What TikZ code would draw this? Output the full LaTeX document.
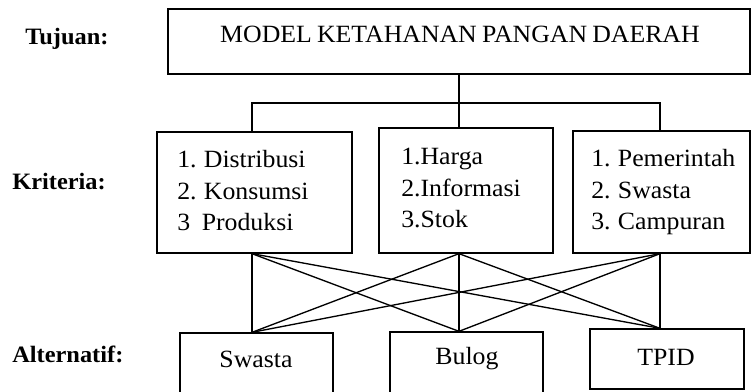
\documentclass[tikz,border=0pt]{standalone}
\usepackage{fontspec}
\setmainfont{Liberation Serif}[FakeStretch=1.04, WordSpace=0.8]
\usetikzlibrary{fit}
\begin{document}
\begin{tikzpicture}[x=0.75pt,y=-0.75pt,
  box/.style={draw, line width=1pt, inner sep=0pt},
  txt/.style={inner sep=0pt, font=\fontsize{18.6}{23.6}\selectfont},
  lbl/.style={inner sep=0pt, font=\fontsize{17.6}{23.6}\selectfont\bfseries},
  wire/.style={line width=1pt}]
\useasboundingbox (0,0) rectangle (751,392);
\clip (0,0) rectangle (751,392);
% boxes
\node[box, fit={(168,9) (750,74)}] (goal) {};
\node[box, fit={(157,132) (352,253)}] (k1) {};
\node[box, fit={(379,128) (553,253)}] (k2) {};
\node[box, fit={(573,131) (750,253)}] (k3) {};
\node[box, fit={(180,333) (333,400)}] (a1) {};
\node[box, fit={(390,332) (543,400)}] (a2) {};
\node[box, fit={(590,329) (744,389)}] (a3) {};
% texts
\node[txt, anchor=base] (goalt) at (460,43) {MODEL KETAHANAN PANGAN DAERAH};
\node[lbl, anchor=base west] (lt) at (25,45) {Tujuan:};
\node[lbl, anchor=base west] (lk) at (12,190) {Kriteria:};
\node[lbl, anchor=base west] (la) at (12,363) {Alternatif:};
\node[txt, anchor=base west] (k1t) at (177,168) {\vtop{\hbox{1. Distribusi}\hbox{2. Konsumsi}\hbox{3\hphantom{.} Produksi}}};
\node[txt, anchor=base west] (k2t) at (401,165) {\vtop{\hbox{1.Harga}\hbox{2.Informasi}\hbox{3.Stok}}};
\node[txt, anchor=base west] (k3t) at (591,167) {\vtop{\hbox{1. Pemerintah}\hbox{2. Swasta}\hbox{3. Campuran}}};
\node[txt, anchor=base] (a1t) at (256,368) {Swasta};
\node[txt, anchor=base] (a2t) at (467,365) {Bulog};
\node[txt, anchor=base] (a3t) at (666,366) {TPID};
% connectors
\coordinate (j1) at (252,103);
\coordinate (j3) at (660,103);
\draw[wire] (goal.south) -- (goal.south |- k2.north);
\draw[wire] (k1.north -| j1) |- (j3) -- (k3.north -| j3);
\coordinate (u1) at (k1.south -| j1);
\coordinate (u2) at (k2.south -| goal.south);
\coordinate (u3) at (k3.south -| j3);
\coordinate (d1) at (a1.north -| j1);
\coordinate (d2) at (a2.north -| goal.south);
\coordinate (d3) at (a3.north -| j3);
\foreach \u in {u1,u2,u3} \foreach \d in {d1,d2,d3} \draw[wire] (\u) -- (\d);
\end{tikzpicture}
\end{document}
